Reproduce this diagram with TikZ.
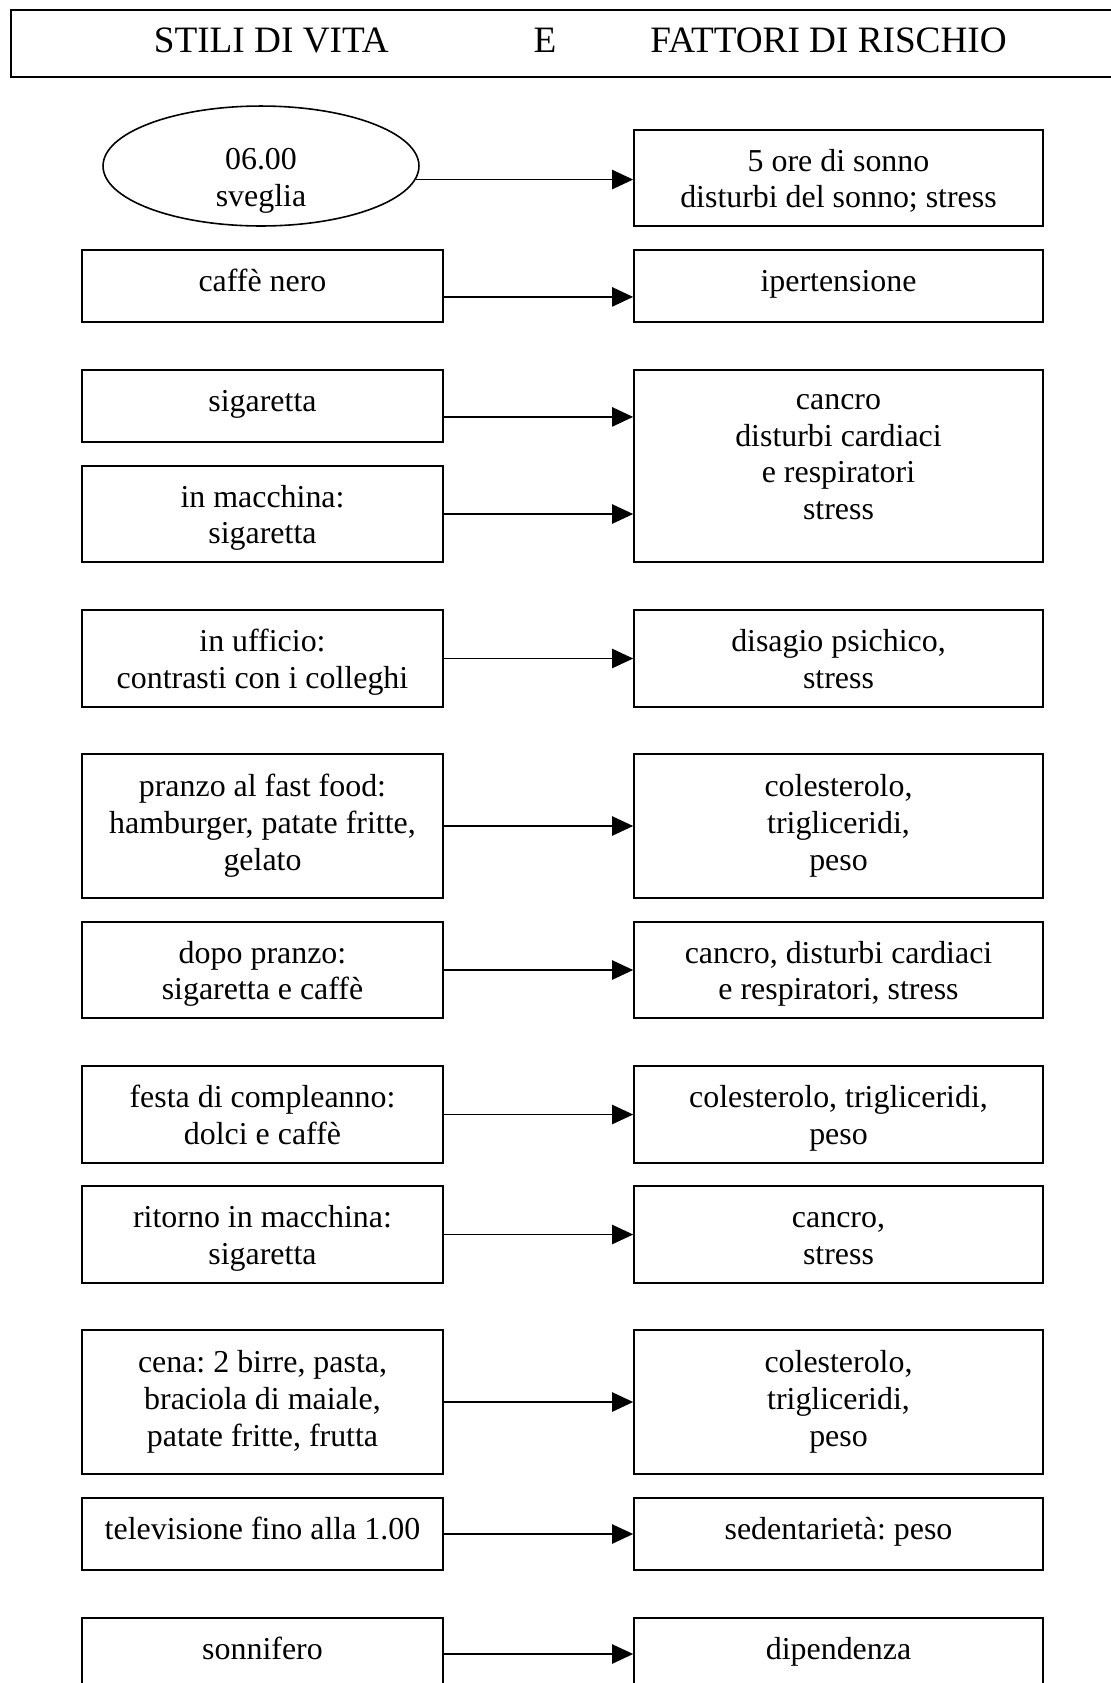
\documentclass[tikz,border=0pt]{standalone}
\usepackage{fontspec}
\setmainfont{Liberation Serif}
\usetikzlibrary{arrows.meta,shapes.geometric}

\tikzset{
  box/.style={draw, line width=0.6pt, inner sep=0pt, align=center, font=\fontsize{12}{13.8}\selectfont,
    execute at begin node=\strut, execute at end node=\strut},
  wakeup/.style={draw, ellipse, line width=0.6pt, inner sep=0pt, font=\fontsize{12}{13.8}\selectfont,
    minimum width=118.8pt, minimum height=45.1pt},
  lbox/.style={box, minimum width=135.7pt},
  rbox/.style={box, minimum width=153.8pt},
  oneline/.style={minimum height=27.1pt, execute at end node=\rule[-5.6pt]{0pt}{0pt}},
  twolines/.style={minimum height=36.3pt, execute at begin node=\rule{0pt}{26.6pt}},
  threelines/.style={minimum height=54.1pt, execute at begin node=\rule{0pt}{37.5pt}},
  fourlines/.style={minimum height=72.2pt},
  arr/.style={line width=0.7pt, -{Triangle[length=7.9pt,width=7.2pt]}},
}

\begin{document}
\frenchspacing
\begin{tikzpicture}[x=0.376pt, y=-0.376pt]
    \clip (0,0) rectangle (1111,1683);
    \node[box, anchor=west, minimum height=25.2pt, font=\fontsize{14}{16}\selectfont] (title) at (10,43.5)
        {\hspace*{53.8pt}STILI DI VITA\hspace{54.5pt}E\hspace{35.3pt}FATTORI DI RISCHIO\hspace*{43pt}};

    \node[wakeup] (wake) at (261,166) {\raisebox{-8.4pt}[0pt][0pt]{\begin{tabular}{@{}c@{}}06.00\\sveglia\end{tabular}}};
    \node[rbox, twolines] (sleep) at (838.5,178) {5 ore di sonno\\disturbi del sonno; stress};
    \node[lbox, oneline] (coffee) at (262.5,286) {caffè nero};
    \node[rbox, oneline] (hyper) at (838.5,286) {ipertensione};
    \node[lbox, oneline] (smoke) at (262.5,406) {sigaretta};
    \node[lbox, twolines] (car) at (262.5,514) {in macchina:\\sigaretta};
    \node[rbox, fourlines] (cancer) at (838.5,466) {cancro\\disturbi cardiaci\\e respiratori\\stress\rule[-6.9pt]{0pt}{1pt}};
    \node[lbox, twolines] (office) at (262.5,658.5) {in ufficio:\\contrasti con i colleghi};
    \node[rbox, twolines] (psych) at (838.5,658.5) {disagio psichico,\\stress};
    \node[lbox, threelines] (lunch) at (262.5,826) {pranzo al fast food:\\hamburger, patate fritte,\\gelato};
    \node[rbox, threelines] (fat) at (838.5,826) {colesterolo,\\trigliceridi,\\peso};
    \node[lbox, twolines] (after) at (262.5,970) {dopo pranzo:\\sigaretta e caffè};
    \node[rbox, twolines] (heart) at (838.5,970) {cancro, disturbi cardiaci\\e respiratori, stress};
    \node[lbox, twolines] (party) at (262.5,1114.5) {festa di compleanno:\\dolci e caffè};
    \node[rbox, twolines] (sweets) at (838.5,1114.5) {colesterolo, trigliceridi,\\peso};
    \node[lbox, twolines] (back) at (262.5,1234.5) {ritorno in macchina:\\sigaretta};
    \node[rbox, twolines] (stress) at (838.5,1234.5) {cancro,\\stress};
    \node[lbox, threelines] (dinner) at (262.5,1402) {cena: 2 birre, pasta,\\braciola di maiale,\\patate fritte, frutta};
    \node[rbox, threelines] (weight) at (838.5,1402) {colesterolo,\\trigliceridi,\\peso};
    \node[lbox, oneline] (tv) at (262.5,1534) {televisione fino alla 1.00};
    \node[rbox, oneline] (sitting) at (838.5,1534) {sedentarietà: peso};
    \node[lbox, oneline] (pill) at (262.5,1654) {sonnifero};
    \node[rbox, oneline] (addict) at (838.5,1654) {dipendenza};

    \draw[arr] (wake.355) -- (wake.355 -| sleep.west);
    \draw[arr] ([yshift=-4.1pt]coffee.east) -- ([yshift=-4.1pt]hyper.west);
    \draw[arr] ([yshift=-4.1pt]smoke.east) -- ([yshift=-4.1pt]smoke.east -| cancer.west);
    \draw[arr] (car.east) -- (car.east -| cancer.west);
    \draw[arr] (office) -- (psych);
    \draw[arr] (lunch) -- (fat);
    \draw[arr] (after) -- (heart);
    \draw[arr] (party) -- (sweets);
    \draw[arr] (back) -- (stress);
    \draw[arr] (dinner) -- (weight);
    \draw[arr] (tv) -- (sitting);
    \draw[arr] (pill) -- (addict);
\end{tikzpicture}
\end{document}
